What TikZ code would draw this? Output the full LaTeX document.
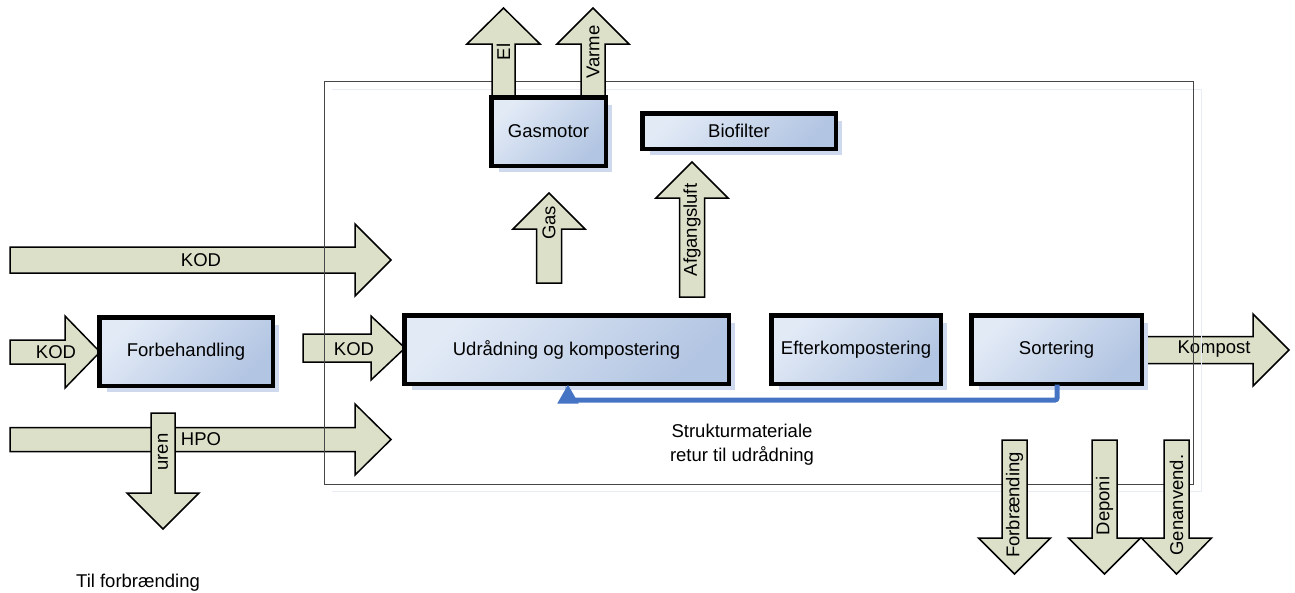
\documentclass[tikz,border=0pt]{standalone}
\usepackage{fontspec}
\setmainfont{Liberation Sans}
\usetikzlibrary{arrows.meta,shadows}

\definecolor{flowfill}{RGB}{221,224,201}
\definecolor{boxlight}{RGB}{226,234,246}
\definecolor{boxdark}{RGB}{178,197,226}
\definecolor{shadowblue}{RGB}{206,217,238}
\definecolor{returnblue}{RGB}{70,116,196}
\definecolor{framegray}{RGB}{70,70,70}
\definecolor{frameshade}{RGB}{232,236,244}

% horizontal block arrow: tail x, head base x, tip x, centre y, shaft half width, head half width
\newcommand\flowH[6]{%
  \draw[flow] (#1,#4-#5) -- (#2,#4-#5) -- (#2,#4-#6) -- (#3,#4)
    -- (#2,#4+#6) -- (#2,#4+#5) -- (#1,#4+#5) -- cycle;}
% vertical block arrow: centre x, tail y, head base y, tip y, shaft half width, head half width
\newcommand\flowV[6]{%
  \draw[flow] (#1-#5,#2) -- (#1-#5,#3) -- (#1-#6,#3) -- (#1,#4)
    -- (#1+#6,#3) -- (#1+#5,#3) -- (#1+#5,#2) -- cycle;}

\begin{document}
\begin{tikzpicture}[x=1pt,y=-1pt,
  font=\fontsize{18.5}{24}\selectfont,
  flow/.style={draw=black,line width=1.5pt,fill=flowfill,line join=miter},
  unitshade/.style={top color=boxlight,bottom color=boxdark,shading angle=45,
    general shadow={fill=shadowblue,shadow xshift=7pt,shadow yshift=-7pt}},
  unit/.style={draw=black,line width=3pt,inner sep=0pt},
  frame/.style={draw=framegray,line width=1pt,fill=none,inner sep=0pt},
  retline/.style={draw=returnblue,line width=5pt,rounded corners=2pt,
    -{Triangle[width=20pt,length=19pt]}},
  lbl/.style={inner sep=0pt},
  vlbl/.style={inner sep=0pt,rotate=90}]

\useasboundingbox (0,0) rectangle (1295,592);

% incoming and outgoing flows crossing the plant boundary
\flowH{10}{355}{391}{260}{13}{36}
\flowH{10}{65}{100}{352}{12}{36}
\flowH{303}{371}{405}{348}{14}{32}
\flowH{10}{355}{391}{439.5}{12}{35.5}
\flowV{163}{413}{493}{529}{12}{36}
\flowH{1141}{1253}{1289}{350}{13.5}{36}

\node[lbl] (kodA) at (201,260) {KOD};
\node[lbl] (kodB) at (56,352) {KOD};
\node[lbl] (kodC) at (354,349) {KOD};
\node[lbl] (hpo) at (201,439) {HPO};
\node[vlbl] (uren) at (163,452) {uren};
\node[lbl] (kompost) at (1214,349) {Kompost};

% plant boundary
\draw[frameshade,line width=1pt] (332,89) -- (1201,89) -- (1201,491) -- (332,491);
\node[frame,minimum width=869pt,minimum height=403pt] (plant) at (758.5,282.5) {};

% internal flows
\flowV{549}{283}{229}{193}{12.5}{36}
\flowV{692}{297}{198}{162}{12.5}{36}
\flowV{503.5}{98}{44}{8}{11.5}{36.5}
\flowV{593}{98}{44}{8}{12}{36}

% residual streams from sorting
\flowV{1014.5}{440}{538}{574}{12.5}{36}
\flowV{1104.5}{440}{538}{574}{12.5}{36}
\flowV{1176.5}{440}{538}{574}{12.5}{35}

\node[vlbl] (gaslbl) at (549,223) {Gas};
\node[vlbl] (afg) at (692,230) {Afgangsluft};
\node[vlbl] (el) at (503.5,52) {El};
\node[vlbl] (varme) at (593,52) {Varme};
\node[vlbl] (forbr) at (1014.5,505) {Forbrænding};
\node[vlbl] (deponi) at (1104.5,506) {Deponi};
\node[vlbl] (genanv) at (1176.5,505) {Genanvend.};

% process units: shaded body with drop shadow, then a heavy outline on top
\begin{scope}[every node/.append style={unit}]
\node[unitshade,minimum width=113pt,minimum height=67pt] (motor) at (548.5,131.5) {Gasmotor};
\node[unitshade,minimum width=192pt,minimum height=34pt] (bio) at (739,131) {Biofilter};
\node[unitshade,minimum width=172pt,minimum height=67pt] (pre) at (186,351.5) {Forbehandling};
\node[unitshade,minimum width=323pt,minimum height=67pt] (udr) at (566.5,349.5) {Udrådning og kompostering};
\node[unitshade,minimum width=168pt,minimum height=67pt] (efter) at (856,349.5) {Efterkompostering};
\node[unitshade,minimum width=169pt,minimum height=67pt] (sort) at (1056.5,349.5) {Sortering};
\end{scope}
\foreach \u in {motor,bio,pre,udr,efter,sort}
  \draw[black,line width=3pt] (\u.north west) rectangle (\u.south east);

% return of structure material
\coordinate (retA) at (1057,400);
\coordinate (retB) at (568,400);
\draw[retline] (sort.south -| retA) -- (retA) -- (retB) -- (udr.south -| retB);

\node[lbl,align=center] (retur) at (742,445) {Strukturmateriale\\retur til udrådning};
\node[lbl] (tilforbr) at (138,583) {Til forbrænding};
\end{tikzpicture}
\end{document}
